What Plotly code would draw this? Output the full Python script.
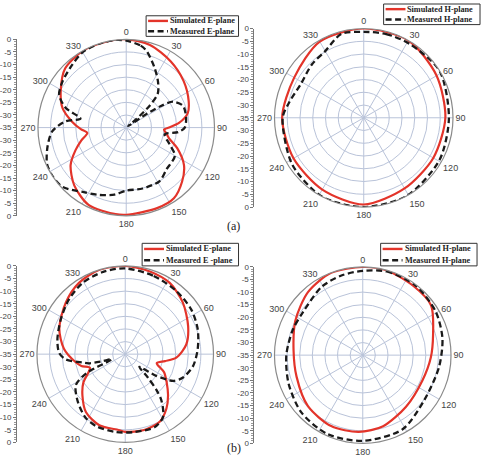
import plotly.graph_objects as go

# ---------------- data ----------------
RADIAL_TICKS = [0, -5, -10, -15, -20, -25, -30, -35]
ANGLE_TICKS = [0, 30, 60, 90, 120, 150, 180, 210, 240, 270, 300, 330]

# (a) E-plane
sim_e_a_ang = [0, 16, 34, 51, 67, 77, 85, 90, 93, 98, 104, 112, 123, 134, 146, 159, 180, 187, 206, 222, 236, 246, 254, 262, 268, 276, 287, 299, 314, 331, 345, 360]
sim_e_a_db = [0, -0.9, -3.4, -5.7, -8.1, -10, -14, -18, -20, -19, -17.5, -13.2, -7.7, -4.2, -1.2, -0.8, -0.4, -0.4, -0.9, -4.2, -8.4, -13, -16.5, -19.4, -17, -13.5, -8.6, -5.3, -1.3, 0, 0, 0]
meas_e_a_ang = [0, 10, 15, 25, 35, 43, 47, 50, 53, 56, 58, 61, 69, 80, 90, 95, 100, 111, 120, 136, 148, 165, 180, 190, 202, 214, 227, 236, 245, 256, 267, 276, 281, 288, 296, 306, 319, 330, 342, 353, 360]
meas_e_a_db = [-0.5, -2, -3.6, -8.6, -13, -16.7, -22.4, -29.8, -34, -27, -19, -13.8, -10.9, -10.9, -11.8, -14.3, -19.5, -16.6, -12.7, -12, -10, -10, -10, -8, -6.2, -4.2, -0.5, 0, -0.4, -2.8, -5.6, -10.9, -16.5, -9.8, -5.4, -3.8, -2.2, -0.5, 0, 0, -0.5]

# (a) H-plane
sim_h_a_ang = [0, 30, 60, 90, 120, 150, 180, 210, 240, 270, 300, 330, 360]
sim_h_a_db = [0, 0, -2, -3, -3.5, -3, -1, -2.5, -3.2, -3, -3.5, -0.5, 0]
meas_h_a_ang = [0, 15, 32, 58, 90, 119, 151, 180, 208, 237, 270, 282, 298, 316, 330, 345, 360]
meas_h_a_db = [-1.3, -1, -0.9, 0, -1.6, -1, 0, 0, 0, -1.5, -3.2, -5.2, -7, -5.8, -4.8, -1, -1.3]

# (b) E-plane
sim_e_b_ang = [0, 17, 32, 48, 66, 81, 94, 100, 106, 115, 124, 134, 143, 153, 166, 180, 185, 200, 214, 226, 236, 243, 249, 255, 261, 275, 291, 311, 327, 343, 360]
sim_e_b_db = [0, -0.8, -1.7, -4.3, -7.7, -10.5, -14.7, -19, -22, -18, -15.2, -11.4, -7.9, -4.9, -4, -4.2, -4.8, -5, -7.2, -11.4, -15, -18.5, -20, -17, -15, -10.6, -7, -3.8, -1.3, 0, 0]
meas_e_b_ang = [0, 20, 39, 56, 71, 86, 100, 112, 119, 125, 132, 136, 139, 142, 149, 158, 173, 187, 202, 212, 225, 238, 244, 249, 253, 256, 259, 265, 271, 282, 298, 314, 329, 345, 360]
meas_e_b_db = [-1, -2, -2.8, -3.4, -4.6, -6.2, -7.7, -10.3, -13.2, -20, -27.5, -22, -16, -11.7, -5.9, -3.8, -3.9, -3.9, -4.2, -5.3, -8.4, -11.9, -18, -29.4, -25, -20, -17.7, -11.3, -8.8, -7.5, -6, -3.9, -2.1, -1.2, -1]

# (b) H-plane
sim_h_b_ang = [0, 15, 36, 54, 74, 92, 113, 140, 164, 183, 204, 227, 252, 274, 297, 319, 339, 360]
sim_h_b_db = [0, 0, -1, -1.5, -6, -8, -9.3, -8.3, -5.7, -4.5, -4.2, -5.3, -7.4, -7.5, -5, -1.9, 0, 0]
meas_h_b_ang = [0, 16, 37, 59, 78, 99, 126, 152, 180, 204, 227, 249, 270, 290, 306, 329, 345, 360]
meas_h_b_db = [-1.6, -0.5, -0.3, -1.3, -2.7, -4.4, -4.8, -1.6, -1, -0.7, -1.7, -3.5, -4.7, -5.5, -5.8, -3.4, -2.3, -1.6]

PANEL_LABELS = ["(a)", "(b)"]
PANELS = [
    ("polar", ("Simulated E-plane", sim_e_a_ang, sim_e_a_db), ("Measured E-plane", meas_e_a_ang, meas_e_a_db)),
    ("polar2", ("Simulated H-plane", sim_h_a_ang, sim_h_a_db), ("Measured H-plane", meas_h_a_ang, meas_h_a_db)),
    ("polar3", ("Simulated E-plane", sim_e_b_ang, sim_e_b_db), ("Measured E -plane", meas_e_b_ang, meas_e_b_db)),
    ("polar4", ("Simulated H-plane", sim_h_b_ang, sim_h_b_db), ("Measured H-plane", meas_h_b_ang, meas_h_b_db)),
]

W, H = 483, 469
CENTERS = [(124, 126, 90), (363, 116, 91), (123, 357, 90), (362, 358, 90)]
AXIS_X = [14, 253, 14, 253]
# legend boxes: left, top, right, bottom (px)
LEGEND_BOX = [(144, 12, 237, 33), (383, 0, 480, 21), (140, 244, 237, 267), (380, 244, 477, 267)]

RED = "#e3342a"
BLACK = "#1a1a1a"
GRID = "#b9c3d9"
DASH = "6px,3.5px"

fig = go.Figure()

for (pid, sim, meas) in PANELS:
    fig.add_trace(go.Scatterpolar(
        theta=sim[1], r=sim[2], name=sim[0], subplot=pid, showlegend=False,
        mode="lines", line=dict(color=RED, width=2.2, shape="spline", smoothing=0.8)))
    fig.add_trace(go.Scatterpolar(
        theta=meas[1], r=meas[2], name=meas[0], subplot=pid, showlegend=False,
        mode="lines", line=dict(color=BLACK, width=2.3, dash=DASH, shape="spline", smoothing=0.8)))

layout = dict(width=W, height=H, margin=dict(l=0, r=0, t=0, b=0),
              paper_bgcolor="white", plot_bgcolor="white", showlegend=False)

tick_vals = sorted(set([35 + t for t in RADIAL_TICKS] + [-(35 + t) for t in RADIAL_TICKS]))
tick_text = [str(int(abs(v) - 35)) if abs(v) != 35 else "0" for v in tick_vals]

shapes = []
annotations = []

def px(x):
    return x / W

def py(y):
    return (H - y) / H

for i, (pid, sim, meas) in enumerate(PANELS):
    cx, cy, rad = CENTERS[i]
    xd = [(cx - rad) / W, (cx + rad) / W]
    yd = [(H - cy - rad) / H, (H - cy + rad) / H]
    layout[pid] = dict(
        domain=dict(x=xd, y=yd),
        bgcolor="white",
        radialaxis=dict(range=[-35, 0], tickvals=RADIAL_TICKS, showticklabels=False, ticks="",
                        showline=False, gridcolor=GRID, gridwidth=0.8),
        angularaxis=dict(rotation=90, direction="clockwise", tickvals=ANGLE_TICKS,
                         ticktext=[str(a) for a in ANGLE_TICKS], ticks="",
                         gridcolor=GRID, gridwidth=0.8, linecolor="#8a8a8a", linewidth=1.2,
                         tickfont=dict(family="Liberation Sans", size=9, color="#444")),
    )
    # left linear dB scale
    sfx = "" if i == 0 else str(i + 1)
    ax_x = AXIS_X[i]
    layout["xaxis" + sfx] = dict(domain=[ax_x / W, (ax_x + 2) / W], visible=False, range=[0, 1],
                                 anchor="y" + sfx)
    layout["yaxis" + sfx] = dict(domain=yd, range=[-35, 35], anchor="x" + sfx,
                                 tickvals=tick_vals, ticktext=tick_text, ticks="outside", ticklen=3,
                                 tickcolor="#777", showline=True, linecolor="#777", linewidth=1,
                                 showgrid=False, zeroline=False,
                                 minor=dict(ticks="outside", ticklen=2, dtick=1, tickcolor="#999"),
                                 tickfont=dict(family="Liberation Sans", size=8, color="#444"))
    fig.add_trace(go.Scatter(x=[0.5], y=[0], mode="markers", marker=dict(opacity=0),
                             xaxis="x" + sfx, yaxis="y" + sfx, showlegend=False, hoverinfo="skip"))

    # legend box drawn as a framed key
    l, t, r, b = LEGEND_BOX[i]
    shapes.append(dict(type="rect", xref="paper", yref="paper", x0=px(l), x1=px(r), y0=py(b), y1=py(t),
                       line=dict(color="#333", width=1), fillcolor="white", layer="above"))
    rows = [(sim[0], RED, "solid"), (meas[0], BLACK, DASH)]
    rh = (b - t) / 2.0
    for k, (name, col, dash) in enumerate(rows):
        yy = t + rh * (k + 0.5)
        shapes.append(dict(type="line", xref="paper", yref="paper", x0=px(l + 2), x1=px(l + 22),
                           y0=py(yy), y1=py(yy), line=dict(color=col, width=2.4, dash=dash), layer="above"))
        annotations.append(dict(x=px(l + 22), y=py(yy), xref="paper", yref="paper", text=name,
                                xanchor="left", yanchor="middle", showarrow=False,
                                font=dict(family="Liberation Serif", size=8.2, color="#222", weight="bold")))

annotations.append(dict(x=px(232), y=py(226), xref="paper", yref="paper", text=PANEL_LABELS[0],
                        showarrow=False, font=dict(family="Liberation Serif", size=12, color="#222")))
annotations.append(dict(x=px(232), y=py(462), xref="paper", yref="paper", text=PANEL_LABELS[1],
                        showarrow=False, font=dict(family="Liberation Serif", size=12, color="#222")))

layout["shapes"] = shapes
layout["annotations"] = annotations
fig.update_layout(**layout)

fig.write_html("out.html")
